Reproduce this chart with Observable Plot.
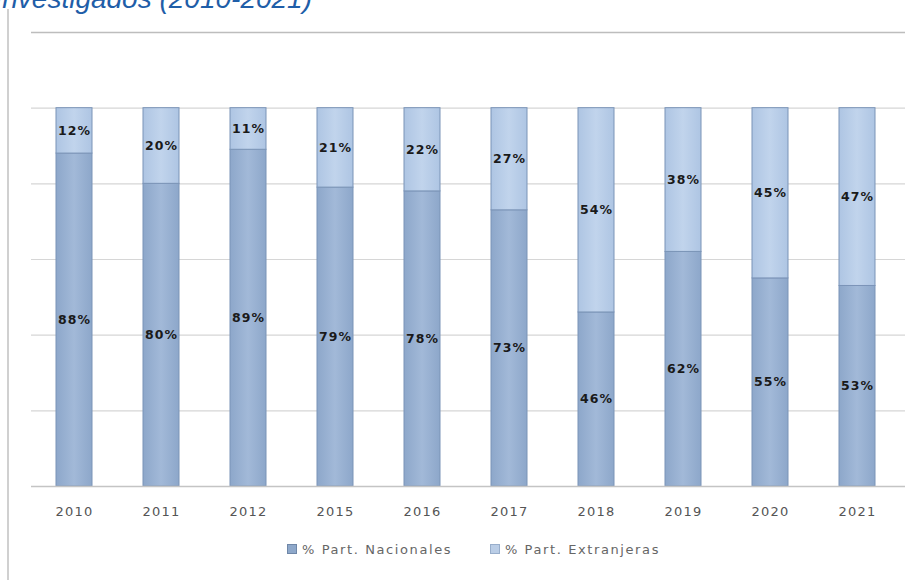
<!DOCTYPE html>
<html>
<head>
<meta charset="utf-8">
<script src="https://cdn.jsdelivr.net/npm/d3@7"></script>
<script src="https://cdn.jsdelivr.net/npm/@observablehq/plot@0.6"></script>
<style>
  body { margin: 0; background: #fff; }
  #wrap { position: relative; width: 913px; height: 580px; overflow: hidden; background: #fff; }
  #title { position: absolute; right: 601px; top: -15px; white-space: nowrap; font-family: "Liberation Sans", Arial, sans-serif; font-style: italic; font-size: 28px; line-height: 28px; color: #1f5ea8; }
  #frame { position: absolute; left: 7px; top: 9px; width: 2px; height: 580px; background: #d0d0d0; }
  #legend { position: absolute; top: 542px; left: 0; width: 913px; text-align: center; font-family: "DejaVu Sans", sans-serif; font-size: 13px; letter-spacing: 1.6px; color: #666; padding-left: 34px; box-sizing: border-box; }
  #legend span.item { margin: 0 16px; }
  #legend span.sw { display: inline-block; width: 8px; height: 8px; margin-right: 5px; vertical-align: 0px; }
  #chart { position: absolute; left: 0; top: 0; }
  #chart text.lbl { letter-spacing: 1px; }
  #chart g[aria-label="x-axis tick label"] text { letter-spacing: 1.2px; }
</style>
</head>
<body>
<div id="wrap">
  <div id="chart"></div>
  <div id="frame"></div>
  <div id="title">Investigados (2010-2021)</div>
  <div id="legend">
    <span class="item"><span class="sw" style="background:#8ea8ca;border:1px solid #6f87a8"></span>% Part. Nacionales</span>
    <span class="item"><span class="sw" style="background:#bacde6;border:1px solid #98aecb"></span>% Part. Extranjeras</span>
  </div>
</div>
<script>
const years = ["2010","2011","2012","2015","2016","2017","2018","2019","2020","2021"];
const nacionales = [88, 80, 89, 79, 78, 73, 46, 62, 55, 53];
const extranjeras = [12, 20, 11, 21, 22, 27, 54, 38, 45, 47];
const series = ["% Part. Nacionales", "% Part. Extranjeras"];
const gridTicks = [0, 20, 40, 60, 80, 100, 120];

const rows = [];
years.forEach((y, i) => {
  rows.push({year: y, serie: series[0], value: nacionales[i], mid: nacionales[i] / 2});
  rows.push({year: y, serie: series[1], value: extranjeras[i], mid: nacionales[i] + extranjeras[i] / 2});
});

const fillFor = d => d.serie === series[0] ? "url(#gNac)" : "url(#gExt)";

const svg = Plot.plot({
  width: 913,
  height: 580,
  marginTop: 32,
  marginBottom: 94,
  marginLeft: 31,
  marginRight: 8,
  style: {fontFamily: "DejaVu Sans, sans-serif", color: "#555", background: "transparent"},
  x: {domain: years, range: [31, 901], paddingInner: 0.585, paddingOuter: 0.2925, label: null},
  y: {domain: [0, 120], axis: null},
  color: {type: "identity"},
  marks: [
    Plot.ruleY(gridTicks.filter(t => t > 0 && t < 120), {stroke: "#d6d6d6", strokeWidth: 1.2}),
    Plot.ruleY([120], {stroke: "#bdbdbd", strokeWidth: 1.5}),
    Plot.barY(rows, Plot.stackY({x: "year", y: "value", z: "serie", order: null, fill: fillFor, stroke: "#7b94b7", strokeWidth: 1})),
    Plot.ruleY([0], {stroke: "#c4c4c4", strokeWidth: 1.5}),
    Plot.text(rows, {x: "year", y: "mid", text: d => d.value + "%", fill: "#1a1a1a", fontSize: 12.5, fontWeight: "bold", fontFamily: "DejaVu Sans, sans-serif", className: "lbl"}),
    Plot.axisX({tickSize: 0, tickPadding: 20, fontSize: 13, fill: "#555", label: null})
  ]
});

d3.select(svg).selectAll("text").filter(function () { return this.closest("g.lbl"); }).classed("lbl", true);

const defs = d3.select(svg).insert("defs", ":first-child");
function grad(id, edge, mid) {
  const g = defs.append("linearGradient").attr("id", id).attr("x1", "0").attr("x2", "1").attr("y1", "0").attr("y2", "0");
  g.append("stop").attr("offset", "0").attr("stop-color", edge);
  g.append("stop").attr("offset", "0.5").attr("stop-color", mid);
  g.append("stop").attr("offset", "1").attr("stop-color", edge);
}
grad("gNac", "#8da7ca", "#a2b9d8");
grad("gExt", "#aec5e3", "#c1d4ec");

document.getElementById("chart").appendChild(svg);
</script>
</body>
</html>
